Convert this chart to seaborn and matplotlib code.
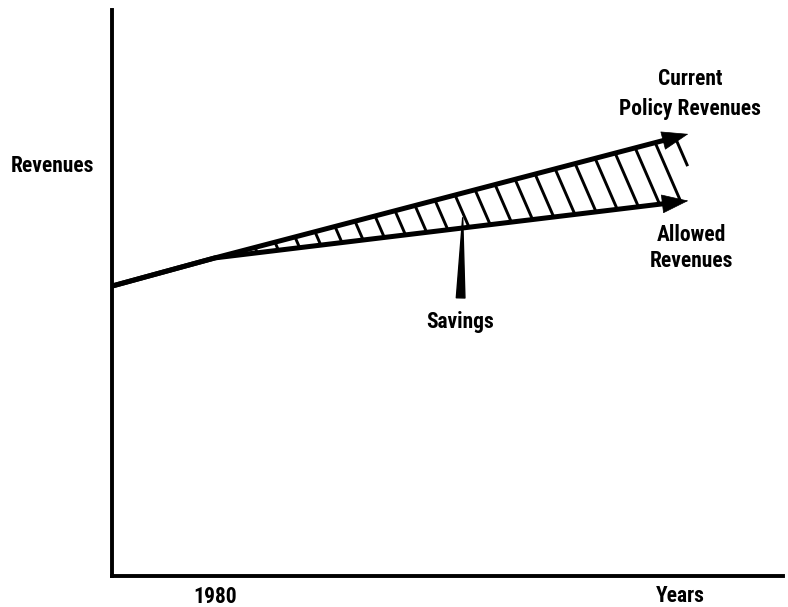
import numpy as np
import pandas as pd
import matplotlib
matplotlib.use("Agg")
import matplotlib.pyplot as plt
import seaborn as sns

# Schematic values (axis runs 0..100 both ways)
years = [0.0, 15.4, 85.9]             # start, 1980, end of projection
current_policy = [51.2, 56.2, 78.1]   # current policy revenues
allowed = [51.2, 56.2, 66.3]          # allowed revenues
tick_pos = [15.4]
tick_labels = ["1980"]
savings_tip = (52.3, 63.3)
savings_text = (51.9, 44.9)

sns.set_theme(style="white")
plt.rcParams["font.family"] = ["Liberation Sans Narrow", "Roboto Condensed", "DejaVu Sans"]
plt.rcParams["font.stretch"] = "condensed"
plt.rcParams["font.weight"] = "bold"
plt.rcParams["text.color"] = "black"
plt.rcParams["xtick.color"] = "black"
plt.rcParams["axes.labelcolor"] = "black"

fig = plt.figure(figsize=(7.88, 6.07), dpi=100)
ax = fig.add_axes([111.5 / 788, 31 / 607, 671.5 / 788, 566 / 607])
ax.set_xlim(0, 100)
ax.set_ylim(0, 100)

# shorten the shafts so the arrow heads stay sharp
head_len = 3.0
x_short = years[-1] - head_len * 0.6
for series in (current_policy, allowed):
    y_short = np.interp(x_short, years, series)
    df = pd.DataFrame({"x": years[:-1] + [x_short], "y": series[:-1] + [y_short]})
    sns.lineplot(data=df, x="x", y="y", color="black", lw=3.6, ax=ax,
                 solid_capstyle="round", sort=False)
    ax.annotate("", xy=(years[-1], series[-1]),
                xytext=(years[-1] - head_len, np.interp(years[-1] - head_len, years, series)),
                arrowprops=dict(arrowstyle="-|>,head_length=0.9,head_width=0.32",
                                color="black", lw=0.5, mutation_scale=20,
                                shrinkA=0, shrinkB=0))

# hatching between the two projections
spacing = 2.98
slope = -2.73
up_slope = (current_policy[2] - current_policy[1]) / (years[2] - years[1])
lo_slope = (allowed[2] - allowed[1]) / (years[2] - years[1])
k = 1
while years[1] + k * spacing < years[2]:
    xu = years[1] + k * spacing
    yu = current_policy[1] + up_slope * (xu - years[1])
    xb = (yu - slope * xu - allowed[1] + lo_slope * years[1]) / (lo_slope - slope)
    xb = min(xb, years[2] - 0.1)
    ax.plot([xu, xb], [yu, yu + slope * (xb - xu)], color="black", lw=2.1,
            solid_capstyle="butt")
    k += 1

fs = 15.5
ax.annotate("Savings", xy=savings_tip, xytext=savings_text, ha="center", va="center",
            fontsize=fs, fontweight="bold",
            arrowprops=dict(arrowstyle="wedge,tail_width=0.4,shrink_factor=0.5",
                            color="black", shrinkA=7, shrinkB=0))
ax.text(86.2, 85.2, "Current\nPolicy Revenues", ha="center", va="center",
        fontsize=fs, fontweight="bold", linespacing=1.45)
ax.text(86.3, 57.9, "Allowed\nRevenues", ha="center", va="center",
        fontsize=fs, fontweight="bold", linespacing=1.25)

for side in ("top", "right"):
    ax.spines[side].set_visible(False)
for side in ("left", "bottom"):
    ax.spines[side].set_color("black")
    ax.spines[side].set_linewidth(2.8)

ax.set_xticks(tick_pos)
ax.set_xticklabels(tick_labels, fontsize=fs, fontweight="bold")
ax.set_yticks([])
ax.tick_params(axis="x", length=0, pad=7)
ax.set_xlabel("Years", fontsize=fs, fontweight="bold")
ax.xaxis.set_label_coords(0.847, -0.016)
ax.xaxis.label.set_va("top")
ax.set_ylabel("Revenues", fontsize=fs, fontweight="bold", rotation=0,
              ha="center", va="center")
ax.yaxis.set_label_coords(-0.088, 0.724)

fig.savefig("out.png", dpi=100)
